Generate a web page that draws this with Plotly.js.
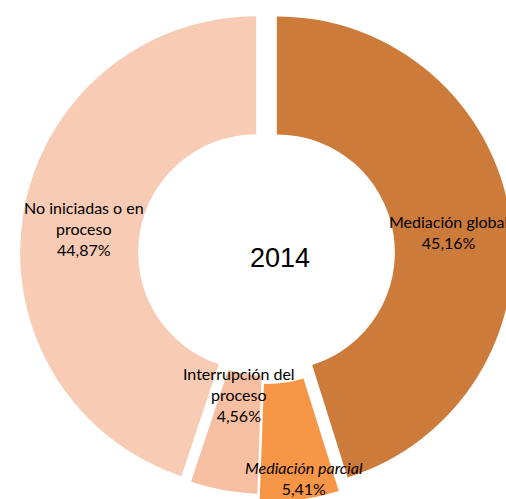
<!DOCTYPE html>
<html>
<head>
<meta charset="utf-8">
<script src="https://cdn.plot.ly/plotly-3.0.1.min.js"></script>
<style>
html,body{margin:0;padding:0;overflow:hidden;background:#fff;width:506px;height:499px;}
#chart{position:absolute;left:0;top:0;}
</style>
</head>
<body>
<div id="chart"></div>
<script>
// ---- data ----
const categories = ['Mediación global', 'Mediación parcial', 'Interrupción del proceso', 'No iniciadas o en proceso'];
const labelLines = ['Mediación global', 'Mediación parcial', 'Interrupción del<br>proceso', 'No iniciadas o en<br>proceso'];
const values = [45.16, 5.41, 4.56, 44.87];
const centerText = '2014';

// ---- styles ----
const colors = ['#CD7B3A', '#F79646', '#F7BFA1', '#F8CBB4'];
const W = 540, H = 540;
const CX = 266.5, CY = 254, R = 236;
const pullPx = [10.5, 12, 4, 10.5];
const pulls = pullPx.map(p => p / R);
const maxPull = Math.max(...pulls);
const half = R * (1 + maxPull);
const labelPos = [[448, 232], [304, 478], [239, 394], [84, 228]];
const labelStyle = [
  {italic: false}, {italic: true}, {italic: false}, {italic: false}
];

function fmt(v) { return v.toFixed(2).replace('.', ',') + '%'; }

const trace = {
  type: 'pie',
  labels: categories,
  values: values,
  sort: false,
  direction: 'clockwise',
  rotation: 0,
  hole: 0.5,
  pull: pulls,
  marker: {colors: colors, line: {width: 0}},
  textinfo: 'none',
  hoverinfo: 'label+percent',
  showlegend: false,
  domain: {
    x: [(CX - half) / W, (CX + half) / W],
    y: [(H - CY - half) / H, (H - CY + half) / H]
  }
};

const annotations = categories.map((c, i) => {
  let txt = labelLines[i] + '<br>' + fmt(values[i]);
  if (labelStyle[i].italic) txt = '<i>' + labelLines[i] + '</i><br>' + fmt(values[i]);
  return {
    xref: 'paper', yref: 'paper',
    x: labelPos[i][0] / W, y: 1 - labelPos[i][1] / H,
    xanchor: 'center', yanchor: 'middle',
    text: txt, showarrow: false, align: 'center',
    font: {family: 'Lato, "Open Sans", sans-serif', size: 16, color: '#000'}
  };
});
annotations.push({
  xref: 'paper', yref: 'paper', x: 280 / W, y: 1 - 258 / H,
  xanchor: 'center', yanchor: 'middle', showarrow: false,
  text: centerText,
  font: {family: '"Liberation Sans", Arial, sans-serif', size: 27, color: '#000'}
});

const layout = {
  width: W, height: H,
  margin: {l: 0, r: 0, t: 0, b: 0, pad: 0},
  paper_bgcolor: '#fff',
  plot_bgcolor: '#fff',
  showlegend: false,
  annotations: annotations
};

Plotly.newPlot('chart', [trace], layout, {displayModeBar: false, staticPlot: true});
</script>
</body>
</html>
